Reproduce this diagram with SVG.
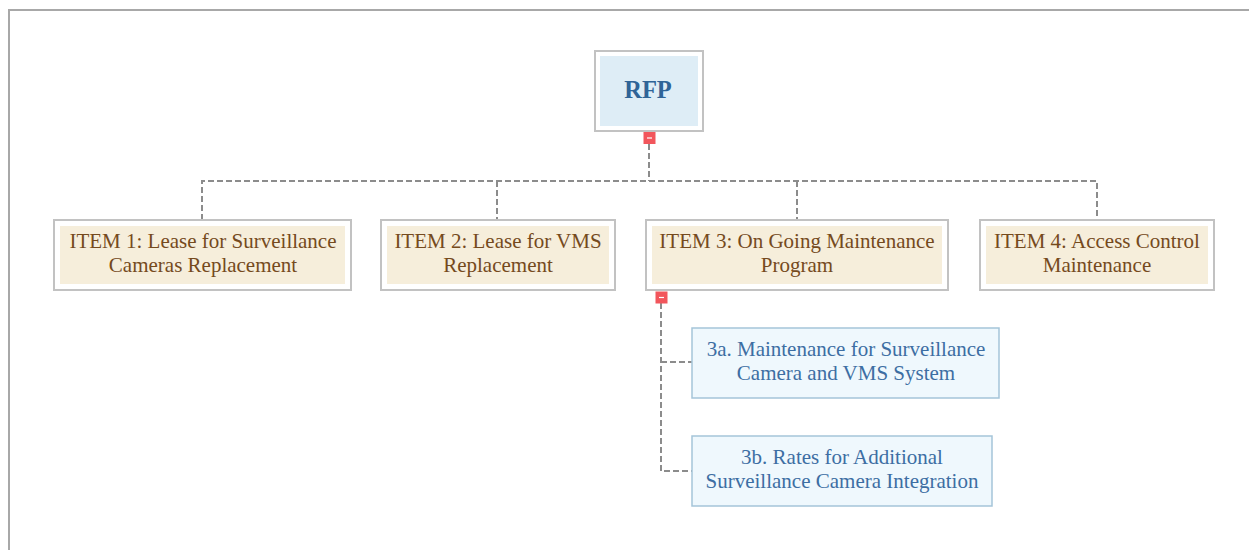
<svg xmlns="http://www.w3.org/2000/svg" width="1249" height="550" viewBox="0 0 1249 550">
<style>
.frame{fill:none;stroke:#a8a8a8;stroke-width:2}
.outer{fill:#ffffff;stroke:#c2c2c2;stroke-width:2}
.item{fill:#f6eedb}
.itemt{font-family:"Liberation Serif",serif;font-size:21px;fill:#754a1d;text-anchor:middle}
.root{fill:#deedf6}
.roott{font-family:"Liberation Serif",serif;font-size:24.5px;font-weight:bold;fill:#2f6497;text-anchor:middle}
.sub{fill:#eff8fd;stroke:#a5c5d9;stroke-width:1.5}
.subt{font-family:"Liberation Serif",serif;font-size:21px;fill:#3d6ea3;text-anchor:middle}
.conn{fill:none;stroke:#8c8c8c;stroke-width:2;stroke-dasharray:6,3}
.btn{fill:#f2565c}
.btnm{stroke:#ffffff;stroke-width:1.2}
</style>
<rect class="frame" x="9" y="10" width="1260" height="560"/>
<g id="connectors">
<path class="conn" d="M649,144 V181 M202,220 V181 H1097 V220 M497,181 V220 M797,181 V220"/>
<path class="conn" d="M661,303 V471 H692 M661,362 H692"/>
</g>
<g id="rfp">
<rect class="outer" x="595" y="51" width="108" height="80"/>
<rect class="root" x="600" y="56" width="98" height="70"/>
<text class="roott" x="648" y="98">RFP</text>
<rect class="btn" x="643.5" y="132" width="12" height="12"/>
<line class="btnm" x1="647" y1="138" x2="652" y2="138"/>
</g>
<g id="item1">
<rect class="outer" x="54" y="220" width="297" height="70"/>
<rect class="item" x="60" y="226" width="285" height="58"/>
<text class="itemt" x="203" y="248">ITEM 1: Lease for Surveillance</text>
<text class="itemt" x="203" y="272">Cameras Replacement</text>
</g>
<g id="item2">
<rect class="outer" x="381" y="220" width="234" height="70"/>
<rect class="item" x="387" y="226" width="222" height="58"/>
<text class="itemt" x="498" y="248">ITEM 2: Lease for VMS</text>
<text class="itemt" x="498" y="272">Replacement</text>
</g>
<g id="item3">
<rect class="outer" x="646" y="220" width="302" height="70"/>
<rect class="item" x="652" y="226" width="290" height="58"/>
<text class="itemt" x="797" y="248">ITEM 3: On Going Maintenance</text>
<text class="itemt" x="797" y="272">Program</text>
<rect class="btn" x="655.5" y="291.5" width="12" height="12"/>
<line class="btnm" x1="659" y1="297.5" x2="664" y2="297.5"/>
</g>
<g id="item4">
<rect class="outer" x="980" y="220" width="234" height="70"/>
<rect class="item" x="986" y="226" width="222" height="58"/>
<text class="itemt" x="1097" y="248">ITEM 4: Access Control</text>
<text class="itemt" x="1097" y="272">Maintenance</text>
</g>
<g id="item3a">
<rect class="sub" x="692" y="328" width="307" height="70"/>
<text class="subt" x="846" y="356">3a. Maintenance for Surveillance</text>
<text class="subt" x="846" y="380">Camera and VMS System</text>
</g>
<g id="item3b">
<rect class="sub" x="692" y="436" width="300" height="70"/>
<text class="subt" x="842" y="464">3b. Rates for Additional</text>
<text class="subt" x="842" y="488">Surveillance Camera Integration</text>
</g>
</svg>
